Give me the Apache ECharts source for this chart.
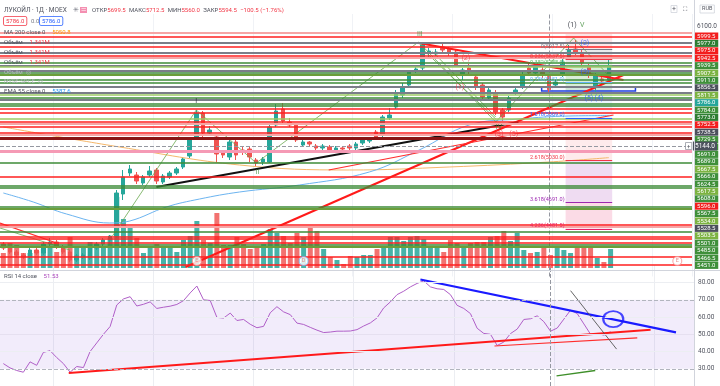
<!DOCTYPE html>
<html><head><meta charset="utf-8">
<script src="https://cdn.jsdelivr.net/npm/echarts@6/dist/echarts.min.js"></script>
<style>html,body{margin:0;padding:0;background:#fff}#c{width:720px;height:386px}</style>
</head><body><div id="c"></div>
<script>
// ---------- DATA ----------
const opens=[4360,4328,4296,4272,4256,4312,4288,4360,4376,4336,
4296,4232,4256,4248,4328,4360,4392,4424,4760,4928,
4912,4848,4912,4952,4856,4896,4928,4976,5064,5208,
5408,5248,5216,5088,5056,5176,5112,5120,5032,5016,
5016,5312,5440,5336,5312,5152,5176,5144,5128,5136,
5112,5128,5144,5128,5168,5184,5256,5232,5368,5456,
5552,5632,5752,5768,5888,5880,5936,5920,5896,5712,
5768,5696,5632,5528,5568,5432,5432,5568,5616,5768,
5728,5752,5699.5,5632,5712,5856,5920,5888,5776,5616,
5680,5672];
const closes=[4328,4296,4272,4256,4312,4288,4360,4376,4336,4296,
4232,4264,4272,4328,4360,4392,4424,4768,4896,4960,
4864,4896,4944,4864,4904,4928,4960,5040,5192,5408,
5248,5272,5080,5072,5176,5072,5096,5056,5008,5040,
5296,5424,5344,5312,5192,5176,5160,5128,5144,5112,
5128,5120,5128,5160,5192,5200,5216,5376,5392,5568,
5616,5736,5760,5952,5904,5896,5912,5888,5792,5752,
5744,5616,5536,5592,5416,5376,5528,5592,5712,5728,
5776,5712,5594.5,5656,5816,5912,5888,5808,5712,5712,
5664,5786];
const lows=[4312,4280,4256,4240,4240,4272,4272,4344,4320,4280,
4216,4216,4240,4232,4312,4344,4352,4408,4712,4904,
4840,4832,4896,4840,4840,4880,4912,4960,5048,5192,
5192,5224,5008,5048,5032,5032,5072,5016,4984,4992,
5008,5296,5320,5296,5176,5136,5144,5112,5112,5096,
5096,5104,5112,5112,5152,5168,5200,5216,5352,5440,
5528,5616,5728,5752,5848,5864,5896,5864,5776,5672,
5720,5592,5512,5504,5392,5344,5416,5552,5600,5712,
5704,5688,5560,5608,5696,5840,5872,5784,5688,5576,
5640,5656];
const highs=[4376,4344,4312,4288,4328,4328,4376,4408,4392,4352,
4312,4280,4288,4344,4376,4408,4432,4792,4952,4992,
4936,4912,4984,4968,4920,4944,4976,5056,5208,5432,
5424,5304,5232,5112,5200,5192,5136,5136,5048,5056,
5312,5480,5488,5368,5328,5192,5184,5160,5160,5152,
5144,5144,5160,5176,5208,5216,5272,5392,5448,5592,
5648,5752,5792,5976,5928,5920,5960,5936,5912,5768,
5800,5712,5648,5608,5592,5448,5544,5608,5736,5816,
5800,5776,5712.5,5672,5848,5952,5992,5912,5800,5728,
5696,5832];
const volumes=[1.5,2.5,2.3,1.5,1.5,1.7,1.9,2.2,1.6,1.9,
3.1,2.0,2.0,2.6,2.4,2.2,3.0,7.1,4.9,4.1,
3.0,1.5,2.2,2.4,2.1,2.0,1.6,2.8,3.2,4.7,
2.8,2.5,5.5,2.3,2.3,3.1,2.4,1.9,2.1,2.4,
3.9,3.5,3.2,2.5,3.5,3.1,4.1,3.7,1.9,1.1,
0.8,0.4,1.2,1.1,1.3,1.3,1.9,2.2,3.1,3.1,
2.7,3.1,3.2,2.9,2.1,2.0,1.6,2.8,2.5,2.1,
2.5,2.6,2.6,3.1,3.2,3.7,2.7,3.5,1.8,1.5,
1.6,2.1,1.3,2.0,1.8,1.5,2.1,2.0,2.0,1.0,
0.6,1.9];
const rsiValues=[33,30.5,29,28,34,32,39.5,40.5,36.5,33,
28,31.3,30.7,40,45,50,54.5,67,70.5,71.8,
66.4,67.4,68.8,65,65.7,66.3,67.3,69.5,74,78,
70,69.6,59.8,59.4,62.3,58,58.6,55.8,53.8,54.6,
62.5,66,63,61.4,56.5,55.7,54,52.4,51,51.3,
51.8,51.8,51.9,52.7,54.8,56.6,59.5,65.3,68.8,73,
75,77.5,79.5,81,77.5,76.4,76,73,66.8,65,
62,53.5,50.5,50,43.5,45.5,50.4,53,58.6,59,
60.7,57.3,51.8,53.6,58.8,64,62,56,50,50.5,
49.5,51.5];
// moving averages, read at a few bar positions
const ma200Pts=[[0,5296],[17.5,5136],[35.5,4992],[52,4952],[67,4976],[82,5016],[91,5050.8]];
const ema55Pts=[[0,4768],[4.5,4696],[9.5,4600],[16,4528],[19,4544],[24.5,4656],[29.5,4720],[35.5,4776],[44.5,4832],[55,4936],[62.5,5112],[70,5312],[77.5,5360],[85,5384],[91,5387.6]];
// horizontal levels
const hLevels=[6048,6020,5968,5936,5888,5864,5848,5808,5784,5776,5744,5728,5712,5672,5648,5616,5568,5552,5528,5512,5480,5464,5440,5408,5360,5336,5320,5296,5248,5232,5204,5104,5008,4896,4824,4808,4656,4640,4512,4496,4456,4416,4400,4368,4352,4336,4256,4192];
const hKinds=['p','r','k','r','k','r','p','g','k','lg','k','g','o','g','g','k','k','lg','g','k','g','g','r','r','lg','r','p','r','r','p','m','pk','g','r','g','g','g','o','r','p','g','r','r','r','g','o','r','r'];
// trend lines [barIndex, price]
const trendLines=[
 [[27.4,4176],[93.2,5712]],
 [[62.4,5968],[93.2,5672]],
 [[48.9,4952],[91.7,5392]],
 [[23,4816],[77.4,5336]],
 [[16.4,4424],[29,5432],[38,5008],[62.4,5976],[74,5336],[85.7,6008],[90.9,5712]],
 [[-0.5,4528],[8,4368]],
 [[-0.5,4488],[10,4312]],
 [[63,5920],[74,5360]],
 [[64.5,5900],[74,5376]]
];
const trendKinds=['red2','red2','red1','black','green','red1','green','green','green'];
// wave labels
const waveText=['I','II','III','(1)','(2)','IV','(3)','(5)','(1)','V','(2)','(3)','(5)','(4)'];
const wavePos=[[29,5504],[38.2,4936],[62.6,6040],[68.6,5616],[69.5,5848],[74.5,5296],[74.5,5240],[76.7,5240],[85.5,6110],[87,6110],[87.4,5968],[87.4,5736],[88,5530],[89.5,5530]];
const waveKinds=['k','g','g','r','r','g','r','r','k','g','b','b','b','b'];
// fibonacci extension
const fibRatio=['0','0.236','0.382','0.786','1.618','2.618','3.618','4.236'];
const fibPrice=[5917.5,5837.5,5788.0,5651.0,5369.0,5030.0,4691.0,4481.5];
const fibBand=[84.5,91.5];
const fibZones=[[6040,5917.5],[5917.5,5788],[5788,5578.5],[5578.5,5369],[5369,5030],[5030,4691],[4691,4481.5]];
const boxRange=[[80.9,5616],[95,5584]];
// right-axis price tags
const badgeLabels=['5999.5','5977.0','5975.0','5942.5','5939.5','5907.5','5911.0','5856.5','5811.5','5786.0','5784.0','5773.0','5752.5','5738.5','5729.5','5700.0','5691.0','5689.0','5667.5','5666.0','5624.5','5617.5','5608.0','5596.0','5567.5','5534.0','5528.5','5503.5','5501.0','5485.0','5466.5','5451.0'];
const badgeKinds=['r','dg','r','r','g','lg','g','k','lg','t','g','dg','r','k','g','g','g','g','lg','g','g','lg','g','r','g','lg','k','lg','g','g','g','g'];
const crossBar=82, crossPrice=5144;
const eventPos=[29,45,101], eventText=['E','D','E'];
// RSI drawings [barIndex, rsi]
const rsiLines=[
 [[62.5,81.8],[100.8,51.1]],
 [[9.8,27.5],[97,52.7]],
 [[73.6,43.2],[95,47.9]],
 [[85,75.3],[91.9,41.4]],
 [[82.9,25.9],[88.7,29.0]]
];
const rsiKinds=['blue','red2','red1','gray','green2'];
const rsiCircle=[91.4,58.8];

// ---------- STYLES ----------
const UP='#26a69a', DN='#ef5350';
const NB=104;
const cats=[]; for(let i=0;i<NB;i++) cats.push(String(i));
const hStyle={r:['#ff1f1f',1.5],p:['#f6a5a5',2],g:['#3d8b37',1.5],lg:['#9ccc65',1.5],o:['#6b9e3a',2],k:['#7b7e88',2],m:['#8a1515',3],pk:['#f59ab5',3]};
const lStyle={red2:['#ff1a1a',2],red1:['#ff2d2d',1.2],black:['#111111',2],green:['#6aa84f',0.8],blue:['#1a1aff',2.2],gray:['#555555',0.9],green2:['#3f8f2a',1.3]};
const wColor={k:'#131722',g:'#3d8b37',r:'#f23645',b:'#2962ff'};
const fibColor=['#787b86','#f23645','#66bb6a','#64b5f6','#2962ff','#f23645','#9c27b0','#e91e63'];
const zoneColor=['rgba(242,54,69,0.13)','rgba(120,123,134,0.16)','rgba(76,175,80,0.22)','rgba(100,181,246,0.12)','rgba(242,54,69,0.10)','rgba(156,39,176,0.16)','rgba(233,30,99,0.16)'];
const badgeColor={r:'#f21d1d',dg:'#2e7d32',g:'#3f8f3a',lg:'#7cb342',k:'#4c505c',t:'#26a69a'};
const FONT='Roboto, "Noto Sans", sans-serif';

const candleData=opens.map((o,i)=>[o,closes[i],lows[i],highs[i]]);
const volData=volumes.map((v,i)=>({value:v,itemStyle:{color:closes[i]>=opens[i]?'rgba(38,166,154,0.85)':'rgba(239,83,80,0.82)'}}));

const series=[];
series.push({type:'candlestick',xAxisIndex:0,yAxisIndex:0,data:candleData,barWidth:4,z:2,
  itemStyle:{color:UP,color0:DN,borderColor:UP,borderColor0:DN,borderWidth:1},
  markLine:{silent:true,symbol:['none','none'],animation:false,label:{show:false},
    lineStyle:{color:'#9598a1',type:'dashed',width:1},data:[{xAxis:String(crossBar)}]}});
series.push({type:'bar',xAxisIndex:2,yAxisIndex:1,data:volData,barWidth:5,z:1,silent:true});
series.push({type:'scatter',xAxisIndex:2,yAxisIndex:1,z:6,symbol:'circle',symbolSize:9,
  data:eventPos.map((p,i)=>({value:[String(p),0.7],label:{formatter:eventText[i]},itemStyle:{borderColor:eventText[i]==='D'?'#64b5f6':'#f48a8a'}})),
  itemStyle:{color:'#fff',borderWidth:1},label:{show:true,position:'inside',fontSize:5.5,color:'#e57373',fontFamily:FONT}});
series.push({type:'line',xAxisIndex:1,yAxisIndex:0,data:[[0,5000]],symbol:'none',lineStyle:{opacity:0},z:3,silent:true,
  markLine:{silent:true,symbol:['none','none'],animation:false,label:{show:false},
    data:hLevels.map((v,i)=>({yAxis:v,lineStyle:{color:hStyle[hKinds[i]][0],width:hStyle[hKinds[i]][1],type:'solid'}}))}});
series.push({type:'line',xAxisIndex:1,yAxisIndex:0,data:ma200Pts,smooth:0.4,symbol:'none',lineStyle:{color:'#f5b76a',width:1},z:3,silent:true});
series.push({type:'line',xAxisIndex:1,yAxisIndex:0,data:ema55Pts,smooth:0.4,symbol:'none',lineStyle:{color:'#6cb4f0',width:1},z:3,silent:true});
trendLines.forEach((pts,i)=>{const s=lStyle[trendKinds[i]];
  series.push({type:'line',xAxisIndex:1,yAxisIndex:0,data:pts,symbol:'none',lineStyle:{color:s[0],width:s[1]},z:4,silent:true});});
series.push({type:'line',xAxisIndex:1,yAxisIndex:0,data:[[0,5000]],symbol:'none',lineStyle:{opacity:0},z:2,silent:true,
  markArea:{silent:true,data:fibZones.map((z,i)=>[{coord:[fibBand[0],z[0]],itemStyle:{color:zoneColor[i]}},{coord:[fibBand[1],z[1]]}])
    .concat([[{coord:boxRange[0],itemStyle:{color:'rgba(41,98,255,0.04)',borderColor:'#1f3fe0',borderWidth:1.5}},{coord:boxRange[1]}]])},
  markLine:{silent:true,symbol:['none','none'],animation:false,
    data:fibPrice.map((p,i)=>[{coord:[fibBand[0],p],lineStyle:{color:fibColor[i],width:1,type:'solid'},
      label:{show:true,position:'start',distance:1,formatter:fibRatio[i]+'('+p.toFixed(1)+')',color:fibColor[i],fontSize:5.5,fontFamily:FONT,verticalAlign:'bottom'}},{coord:[fibBand[1],p]}])
    .concat([{yAxis:crossPrice,lineStyle:{color:'#9598a1',type:'dashed',width:1},
      label:{show:true,position:'end',distance:1,formatter:crossPrice.toFixed(1),color:'#fff',backgroundColor:'#4c525e',fontSize:6.5,padding:[1,2],fontFamily:FONT}}])}});
series.push({type:'scatter',xAxisIndex:1,yAxisIndex:0,symbolSize:0,z:7,silent:true,
  data:wavePos.map((p,i)=>({value:p,label:{formatter:waveText[i],color:wColor[waveKinds[i]]}})),
  label:{show:true,position:'inside',fontSize:7,fontFamily:FONT}});
series.push({type:'line',xAxisIndex:3,yAxisIndex:2,data:rsiValues,symbol:'none',lineStyle:{color:'#b05fc8',width:1},z:3,silent:true,
  markArea:{silent:true,itemStyle:{color:'rgba(149,96,220,0.12)'},data:[[{yAxis:30},{yAxis:70}]]},
  markLine:{silent:true,symbol:['none','none'],animation:false,label:{show:false},
    data:[{yAxis:80,lineStyle:{color:'#eceef2',type:'solid',width:1}},{yAxis:60,lineStyle:{color:'#eceef2',type:'solid',width:1}},
      {yAxis:50,lineStyle:{color:'#e6e0f0',type:'solid',width:1}},{yAxis:40,lineStyle:{color:'#eceef2',type:'solid',width:1}},
      {yAxis:70,lineStyle:{color:'#b2b5be',type:'dashed',width:1}},{yAxis:30,lineStyle:{color:'#b2b5be',type:'dashed',width:1}},
      {xAxis:String(crossBar),lineStyle:{color:'#9598a1',type:'dashed',width:1}}]}});
rsiLines.forEach((pts,i)=>{const s=lStyle[rsiKinds[i]];
  series.push({type:'line',xAxisIndex:4,yAxisIndex:2,data:pts,symbol:'none',lineStyle:{color:s[0],width:s[1]},z:4,silent:true});});
series.push({type:'scatter',xAxisIndex:4,yAxisIndex:2,data:[rsiCircle],symbol:'circle',symbolSize:[20,16],z:5,silent:true,
  itemStyle:{color:'rgba(0,0,0,0)',borderColor:'#1a1aff',borderWidth:2}});
series.push({type:'scatter',xAxisIndex:5,yAxisIndex:3,data:[],silent:true});

const richBadge={};
Object.keys(badgeColor).forEach(k=>{richBadge[k]={backgroundColor:badgeColor[k],color:'#fff',fontSize:6,fontFamily:FONT,width:22,height:7,lineHeight:7,align:'center',padding:[0,1]};});

const option={
  animation:false,backgroundColor:'#ffffff',
  grid:[
    {left:0,width:694,top:14,height:262.5},
    {left:0,width:694,top:190,height:78},
    {left:0,width:694,top:265.33,height:130.67},
    {left:693,width:1,top:32.3,height:236.8}
  ],
  xAxis:[
    {type:'category',gridIndex:0,data:cats,axisLine:{show:false},axisTick:{show:false},axisLabel:{show:false},
      splitLine:{show:true,interval:(i)=>(i-8)%15===0,lineStyle:{color:'#f0f2f6'}}},
    {type:'value',gridIndex:0,min:-0.5,max:NB-0.5,show:false},
    {type:'category',gridIndex:1,data:cats,show:false},
    {type:'category',gridIndex:2,data:cats,axisLine:{show:false},axisTick:{show:false},axisLabel:{show:false},
      splitLine:{show:true,interval:(i)=>(i-8)%15===0,lineStyle:{color:'#eceef2'}}},
    {type:'value',gridIndex:2,min:-0.5,max:NB-0.5,show:false},
    {type:'value',gridIndex:3,min:0,max:1,show:false}
  ],
  yAxis:[
    {type:'value',gridIndex:0,min:4100,max:6200,interval:100,position:'right',
      axisLine:{show:false},axisTick:{show:false},splitLine:{show:false},
      axisLabel:{margin:5,fontSize:6.5,color:'#50535e',fontFamily:FONT,formatter:(v)=>v===6100?'6100.0':''}},
    {type:'value',gridIndex:1,min:0,max:7.8,show:false},
    {type:'value',gridIndex:2,min:20,max:90,interval:10,position:'right',
      axisLine:{show:false},axisTick:{show:false},splitLine:{show:false},
      axisLabel:{margin:4,fontSize:6.5,color:'#50535e',fontFamily:FONT,formatter:(v)=>(v>=30&&v<=80)?v.toFixed(2):''}},
    {type:'category',gridIndex:3,position:'right',inverse:true,data:badgeLabels,z:1,
      axisLine:{show:false},axisTick:{show:false},splitLine:{show:false},
      axisLabel:{interval:0,margin:1,formatter:(v,i)=>'{'+badgeKinds[i]+'|'+v+'}',rich:richBadge}}
  ],
  series:series,
  graphic:[
    {type:'line',shape:{x1:0,y1:270.5,x2:720,y2:270.5},style:{stroke:'#d1d4dc',lineWidth:1},z:50},
    {type:'line',shape:{x1:694.5,y1:0,x2:694.5,y2:386},style:{stroke:'#d1d4dc',lineWidth:1},z:50},
    {type:'text',x:4,y:10,z:60,style:{text:'ЛУКОЙЛ · 1Д · MOEX',fill:'#50535e',font:'6.5px '+FONT,verticalAlign:'middle'}},
    {type:'text',x:73,y:10,z:60,style:{text:'✳',fill:'#787b86',font:'6.5px '+FONT,verticalAlign:'middle'}},
    {type:'text',x:80,y:10,z:60,style:{text:'☰',fill:'#fff',backgroundColor:'#f48fb1',padding:[0,1],font:'5.5px '+FONT,verticalAlign:'middle'}},
    {type:'text',x:92,y:10,z:60,style:{text:'{l|ОТКР}{v|5699.5} {l|МАКС}{v|5712.5} {l|МИН}{v|5560.0} {l|ЗАКР}{v|5594.5} {v|−100.5 (−1.76%)}',
      rich:{l:{fill:'#50535e',fontSize:6,fontFamily:FONT},v:{fill:'#f23645',fontSize:6,fontFamily:FONT}},verticalAlign:'middle'}},
    {type:'text',x:4,y:21,z:60,style:{text:'5786.0',fill:'#f23645',font:'6px '+FONT,borderColor:'#f23645',borderWidth:0.8,padding:[1,2],borderRadius:1,backgroundColor:'#fff',verticalAlign:'middle'}},
    {type:'text',x:31,y:21,z:60,style:{text:'0.0',fill:'#787b86',font:'6px '+FONT,verticalAlign:'middle'}},
    {type:'text',x:40,y:21,z:60,style:{text:'5786.0',fill:'#2962ff',font:'6px '+FONT,borderColor:'#2962ff',borderWidth:0.8,padding:[1,2],borderRadius:1,backgroundColor:'#fff',verticalAlign:'middle'}},
    {type:'text',x:4,y:32,z:60,style:{text:'{l|MA 200 close 0}  {v|5050.8}',rich:{l:{fill:'#50535e',fontSize:6,fontFamily:FONT},v:{fill:'#ff9800',fontSize:6,fontFamily:FONT}},verticalAlign:'middle'}},
    {type:'text',x:4,y:42,z:60,style:{text:'{l|Объём}  {v|1.341M}',rich:{l:{fill:'#50535e',fontSize:6,fontFamily:FONT},v:{fill:'#f23645',fontSize:6,fontFamily:FONT}},verticalAlign:'middle'}},
    {type:'text',x:4,y:52,z:60,style:{text:'{l|Объём}  {v|1.341M}',rich:{l:{fill:'#50535e',fontSize:6,fontFamily:FONT},v:{fill:'#f23645',fontSize:6,fontFamily:FONT}},verticalAlign:'middle'}},
    {type:'text',x:4,y:62,z:60,style:{text:'{l|Объём}  {v|1.341M}',rich:{l:{fill:'#50535e',fontSize:6,fontFamily:FONT},v:{fill:'#f23645',fontSize:6,fontFamily:FONT}},verticalAlign:'middle'}},
    {type:'text',x:4,y:72,z:60,style:{text:'Объём  ◎',fill:'#b2b5be',font:'6px '+FONT,verticalAlign:'middle'}},
    {type:'text',x:4,y:81,z:60,style:{text:'NYSE:SPCE  ◎',fill:'#b2b5be',font:'6px '+FONT,verticalAlign:'middle'}},
    {type:'text',x:4,y:91,z:60,style:{text:'{l|EMA 55 close 0}  {v|5387.6}',rich:{l:{fill:'#50535e',fontSize:6,fontFamily:FONT},v:{fill:'#2196f3',fontSize:6,fontFamily:FONT}},verticalAlign:'middle'}},
    {type:'text',x:4,y:276,z:60,style:{text:'{l|RSI 14 close}  {v|51.53}',rich:{l:{fill:'#50535e',fontSize:6,fontFamily:FONT},v:{fill:'#ab47bc',fontSize:6,fontFamily:FONT}},verticalAlign:'middle'}},
    {type:'text',x:671,y:9,z:60,style:{text:'+',fill:'#50535e',font:'7px '+FONT,verticalAlign:'middle',borderColor:'#d1d4dc',borderWidth:0.8,padding:[0,1]}},
    {type:'text',x:683,y:9,z:60,style:{text:'⛶',fill:'#50535e',font:'6px '+FONT,verticalAlign:'middle'}},
    {type:'text',x:700,y:9,z:60,style:{text:'RUB',fill:'#50535e',font:'5.5px '+FONT,verticalAlign:'middle',borderColor:'#d1d4dc',borderWidth:0.8,padding:[1,2]}},
    {type:'text',x:686,y:146,z:60,style:{text:'+',fill:'#50535e',font:'6px '+FONT,verticalAlign:'middle',backgroundColor:'#fff',borderColor:'#9598a1',borderWidth:0.8,padding:[0,1]}}
  ]
};
const chart=echarts.init(document.getElementById('c'),null,{renderer:'canvas'});
chart.setOption(option);
</script>
</body></html>
